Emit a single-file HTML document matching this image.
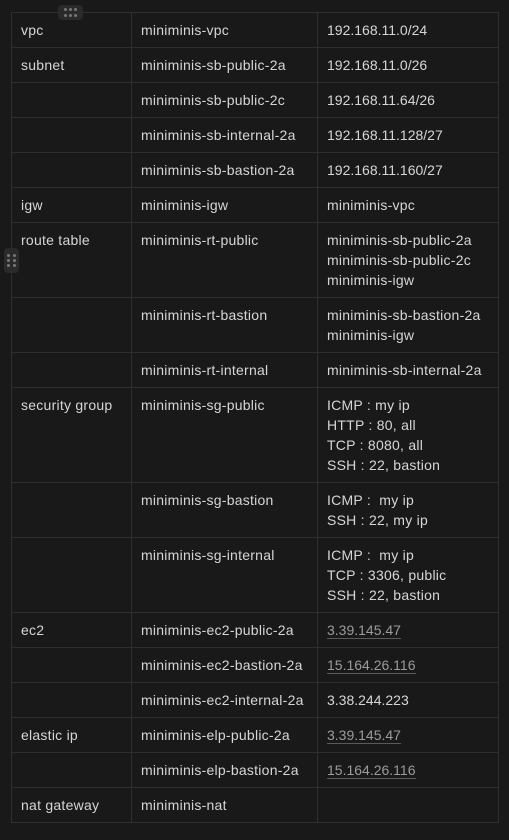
<!DOCTYPE html>
<html><head><meta charset="utf-8"><style>
html,body{margin:0;padding:0;background:#191919;width:509px;height:840px;overflow:hidden;position:relative}
table{position:absolute;left:11px;top:12px;border-collapse:collapse;table-layout:fixed;width:487px}
td{border:1px solid #2f2f2f;vertical-align:top;padding:7px 9px 0 9px;font-family:"Liberation Sans",sans-serif;font-size:14px;line-height:20px;color:#d6d6d6;white-space:nowrap;overflow:hidden;letter-spacing:0.25px}
td.n{letter-spacing:0}
tr.h1 td{height:27px}
tr.h2 td{height:47px}
tr.h3 td{height:67px}
tr.h4 td{height:87px}
.l{color:#9b9b9b;border-bottom:1px solid #5a5a5a}
.grip{position:absolute;background:#2a2a2a;border-radius:4px}
.dot{position:absolute;width:3px;height:3px;border-radius:50%;background:#777}
</style></head><body>
<table>
<colgroup><col style="width:120px"><col style="width:186px"><col style="width:181px"></colgroup>
<tr class="h1"><td>vpc</td><td>miniminis-vpc</td><td class="n">192.168.11.0/24</td></tr>
<tr class="h1"><td>subnet</td><td>miniminis-sb-public-2a</td><td class="n">192.168.11.0/26</td></tr>
<tr class="h1"><td></td><td>miniminis-sb-public-2c</td><td class="n">192.168.11.64/26</td></tr>
<tr class="h1"><td></td><td>miniminis-sb-internal-2a</td><td class="n">192.168.11.128/27</td></tr>
<tr class="h1"><td></td><td>miniminis-sb-bastion-2a</td><td class="n">192.168.11.160/27</td></tr>
<tr class="h1"><td>igw</td><td>miniminis-igw</td><td>miniminis-vpc</td></tr>
<tr class="h3"><td>route table</td><td>miniminis-rt-public</td><td>miniminis-sb-public-2a<br>miniminis-sb-public-2c<br>miniminis-igw</td></tr>
<tr class="h2"><td></td><td>miniminis-rt-bastion</td><td>miniminis-sb-bastion-2a<br>miniminis-igw</td></tr>
<tr class="h1"><td></td><td>miniminis-rt-internal</td><td>miniminis-sb-internal-2a</td></tr>
<tr class="h4"><td>security group</td><td>miniminis-sg-public</td><td>ICMP : my ip<br>HTTP : 80, all<br>TCP : 8080, all<br>SSH : 22, bastion</td></tr>
<tr class="h2"><td></td><td>miniminis-sg-bastion</td><td>ICMP :&nbsp; my ip<br>SSH : 22, my ip</td></tr>
<tr class="h3"><td></td><td>miniminis-sg-internal</td><td>ICMP :&nbsp; my ip<br>TCP : 3306, public<br>SSH : 22, bastion</td></tr>
<tr class="h1"><td>ec2</td><td>miniminis-ec2-public-2a</td><td class="n"><span class="l">3.39.145.47</span></td></tr>
<tr class="h1"><td></td><td>miniminis-ec2-bastion-2a</td><td class="n"><span class="l">15.164.26.116</span></td></tr>
<tr class="h1"><td></td><td>miniminis-ec2-internal-2a</td><td class="n">3.38.244.223</td></tr>
<tr class="h1"><td>elastic ip</td><td>miniminis-elp-public-2a</td><td class="n"><span class="l">3.39.145.47</span></td></tr>
<tr class="h1"><td></td><td>miniminis-elp-bastion-2a</td><td class="n"><span class="l">15.164.26.116</span></td></tr>
<tr class="h1"><td>nat gateway</td><td>miniminis-nat</td><td></td></tr>
</table>
<div class="grip" style="left:58px;top:5px;width:25px;height:15px">
<div class="dot" style="left:6px;top:3px"></div><div class="dot" style="left:11px;top:3px"></div><div class="dot" style="left:16px;top:3px"></div>
<div class="dot" style="left:6px;top:9px"></div><div class="dot" style="left:11px;top:9px"></div><div class="dot" style="left:16px;top:9px"></div>
</div>
<div class="grip" style="left:4px;top:248px;width:15px;height:25px">
<div class="dot" style="left:3px;top:6px"></div><div class="dot" style="left:9px;top:6px"></div>
<div class="dot" style="left:3px;top:11px"></div><div class="dot" style="left:9px;top:11px"></div>
<div class="dot" style="left:3px;top:16px"></div><div class="dot" style="left:9px;top:16px"></div>
</div>
</body></html>
